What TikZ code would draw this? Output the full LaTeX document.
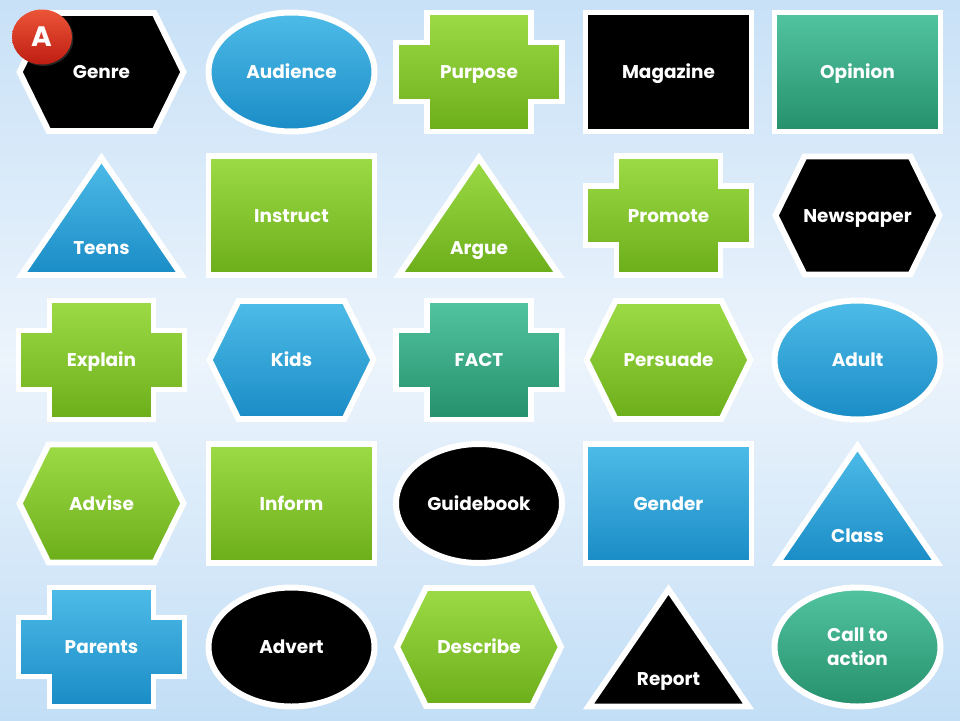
\documentclass[tikz,border=0pt]{standalone}
\usepackage{fontspec}
\setmainfont{Poppins}
\usepackage{tikz}
\usetikzlibrary{shapes.geometric,shadows}

\definecolor{bgtop}{RGB}{200,225,247}
\definecolor{bgmid}{RGB}{236,244,252}
\definecolor{bgbot}{RGB}{194,222,246}
\definecolor{bluetop}{RGB}{78,188,232}
\definecolor{bluebot}{RGB}{26,140,198}
\definecolor{greentop}{RGB}{156,219,70}
\definecolor{greenbot}{RGB}{108,174,26}
\definecolor{tealtop}{RGB}{82,196,160}
\definecolor{tealbot}{RGB}{38,144,108}
\definecolor{redtop}{RGB}{236,84,56}
\definecolor{redbot}{RGB}{190,30,18}

\tikzstyle{card} = [draw=white, line width=3.4pt, drop shadow={shadow xshift=1.2pt, shadow yshift=-1.2pt, opacity=0.3}]
\tikzstyle{bluefill} = [top color=bluetop, bottom color=bluebot]
\tikzstyle{greenfill} = [top color=greentop, bottom color=greenbot]
\tikzstyle{tealfill} = [top color=tealtop, bottom color=tealbot]
\tikzstyle{blackfill} = [fill=black]
\tikzstyle{cardtext} = [text=white, font=\bfseries\fontsize{10.5}{13.5}\selectfont, align=center, inner sep=0pt, text height=7.4pt, text depth=0pt]
\tikzstyle{badge} = [ellipse, minimum width=1.2cm, minimum height=1.1cm, inner sep=0pt, top color=redtop, bottom color=redbot, text=white, font=\bfseries\fontsize{16}{16}\selectfont, text height=11.2pt, text depth=0pt, drop shadow={shadow xshift=0.8pt, shadow yshift=-0.8pt, opacity=0.3}]

% card shapes: [text options] x, y, fill, name, text
\newcommand{\rectcard}[6][]{%
  \path[card, #4, shift={(#2,#3)}] (-83,-59.5) rectangle (83,59.5);
  \node[cardtext, #1] (#5) at (#2,#3) {#6};}
\newcommand{\ovalcard}[6][]{%
  \path[card, #4, shift={(#2,#3)}] (0,0) ellipse [x radius=1.66cm, y radius=1.19cm];
  \node[cardtext, #1] (#5) at (#2,#3) {#6};}
\newcommand{\hexcard}[6][]{%
  \path[card, #4, shift={(#2,#3)}] (-82,0) -- (-53,-59) -- (53,-59) -- (82,0) -- (53,59) -- (-53,59) -- cycle;
  \node[cardtext, #1] (#5) at (#2,#3) {#6};}
\newcommand{\pluscard}[6][]{%
  \path[card, #4, shift={(#2,#3)}] (-83,-29.5) -- (-52,-29.5) -- (-52,-59.5) -- (52,-59.5) -- (52,-29.5) -- (83,-29.5)
    -- (83,29.5) -- (52,29.5) -- (52,59.5) -- (-52,59.5) -- (-52,29.5) -- (-83,29.5) -- cycle;
  \node[cardtext, #1] (#5) at (#2,#3) {#6};}
\newcommand{\tricard}[6][]{%
  \path[card, #4, shift={(#2,#3)}] (0,-57.5) -- (80,59.5) -- (-80,59.5) -- cycle;
  \node[cardtext, #1] (#5) at (#2,#3+32) {#6};}

\begin{document}
\begin{tikzpicture}[x=0.02cm, y=-0.02cm]
  \useasboundingbox (0,0) rectangle (960,720);
  \shade[top color=bgtop, bottom color=bgbot, middle color=bgmid] (0,0) rectangle (960,720);

  % row 1
  \hexcard{101.5}{72}{blackfill}{genre}{Genre}
  \ovalcard{291.5}{72}{bluefill}{audience}{Audience}
  \pluscard{479}{72}{greenfill}{purpose}{Purpose}
  \rectcard{668.5}{72}{blackfill}{magazine}{Magazine}
  \rectcard{857.5}{72}{tealfill}{opinion}{Opinion}

  % row 2
  \tricard{101.5}{215.5}{bluefill}{teens}{Teens}
  \rectcard{291.5}{215.5}{greenfill}{instruct}{Instruct}
  \tricard{479}{215.5}{greenfill}{argue}{Argue}
  \pluscard{668.5}{215.5}{greenfill}{promote}{Promote}
  \hexcard{857.5}{215.5}{blackfill}{newspaper}{Newspaper}

  % row 3
  \pluscard{101.5}{360}{greenfill}{explain}{Explain}
  \hexcard{291.5}{360}{bluefill}{kids}{Kids}
  \pluscard{479}{360}{tealfill}{fact}{FACT}
  \hexcard{668.5}{360}{greenfill}{persuade}{Persuade}
  \ovalcard{857.5}{360}{bluefill}{adult}{Adult}

  % row 4
  \hexcard{101.5}{503.5}{greenfill}{advise}{Advise}
  \rectcard{291.5}{503.5}{greenfill}{inform}{Inform}
  \ovalcard{479}{503.5}{blackfill}{guidebook}{Guidebook}
  \rectcard{668.5}{503.5}{bluefill}{gender}{Gender}
  \tricard{857.5}{503.5}{bluefill}{class}{Class}

  % row 5
  \pluscard{101.5}{647}{bluefill}{parents}{Parents}
  \ovalcard{291.5}{647}{blackfill}{advert}{Advert}
  \hexcard{479}{647}{greenfill}{describe}{Describe}
  \tricard{668.5}{647}{blackfill}{report}{Report}
  \ovalcard[yshift=-6.75pt]{857.5}{647}{tealfill}{calltoaction}{Call to\\action}

  \node[badge] (letter) at (42,37) {A};
\end{tikzpicture}
\end{document}
